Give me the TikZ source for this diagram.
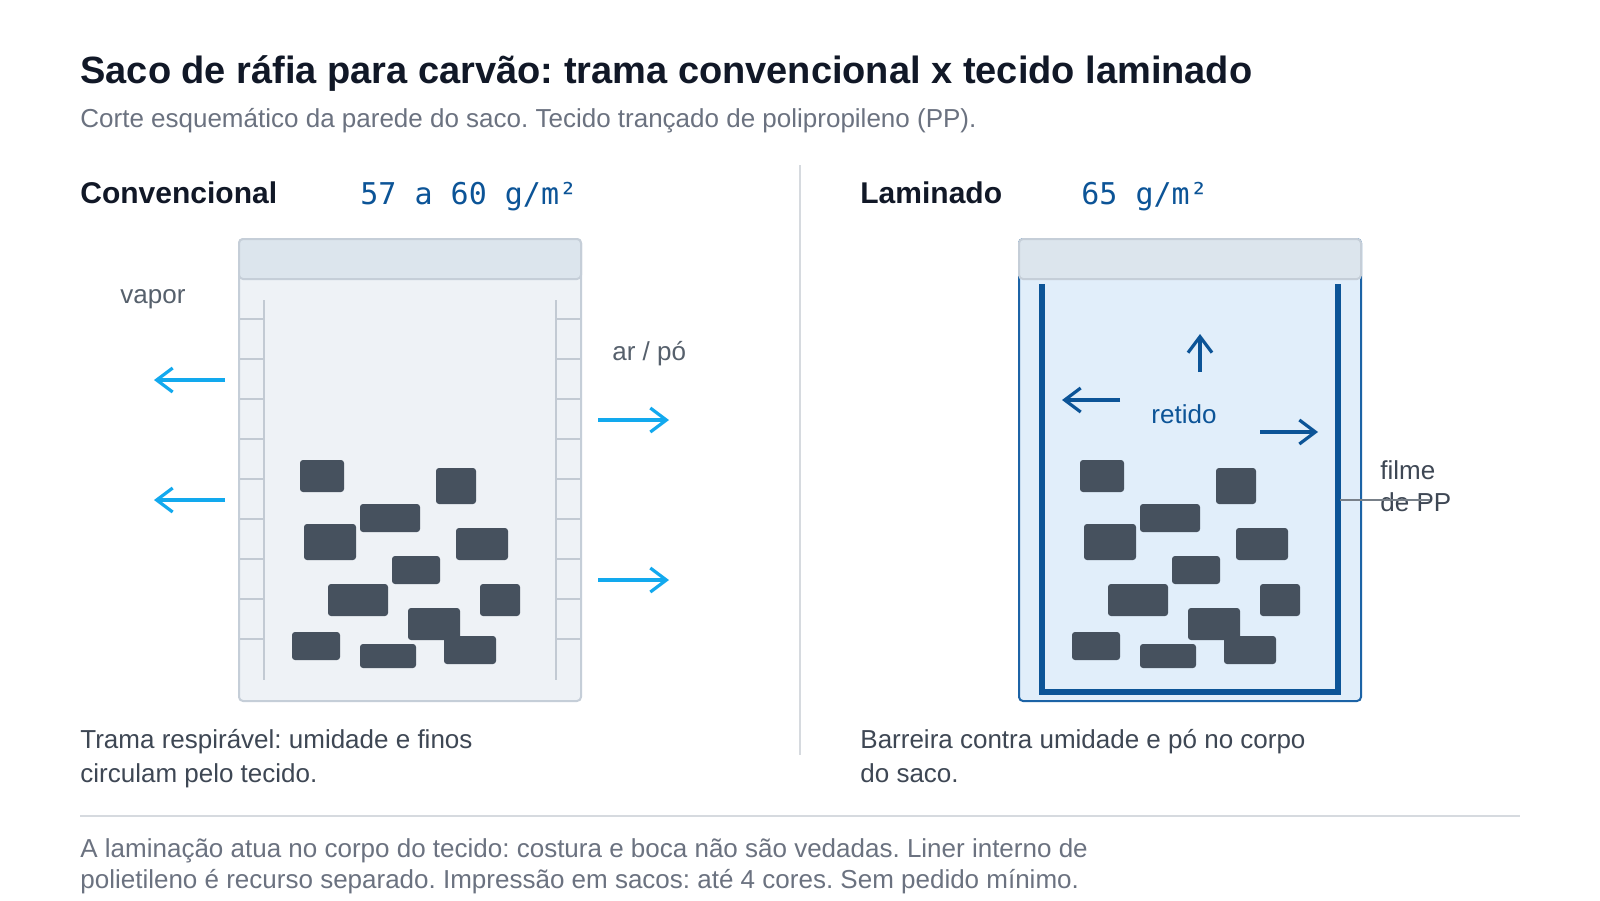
\documentclass[tikz,border=0pt]{standalone}
\usepackage{fontspec}
\setmainfont{Liberation Sans}
\newfontfamily\monofont{DejaVu Sans Mono}
\usetikzlibrary{arrows.meta}
\frenchspacing
\definecolor{ink}{HTML}{111827}
\definecolor{subgray}{HTML}{6B7280}
\definecolor{textgray}{HTML}{3E4754}
\definecolor{labelgray}{HTML}{56606C}
\definecolor{skyblue}{HTML}{12A9EE}
\definecolor{deepblue}{HTML}{0C5497}
\definecolor{coalgray}{HTML}{46515E}
\definecolor{bagfill}{HTML}{EEF2F6}
\definecolor{bagedge}{HTML}{C5CED8}
\definecolor{bandfill}{HTML}{DCE5ED}
\definecolor{weavegray}{HTML}{C2CAD3}
\definecolor{laminfill}{HTML}{E1EEFA}
\definecolor{laminedge}{HTML}{1C63A6}
\definecolor{rulegray}{HTML}{D6DADF}
\tikzset{
  txt/.style={anchor=base west, inner sep=0pt},
  coal/.style={fill=coalgray, rounded corners=1.5pt},
  weave/.style={draw=weavegray, line width=1pt},
  airflow/.style={draw=skyblue, line width=1.6pt, -{Straight Barb[length=8pt,width=12pt]}},
  heldflow/.style={draw=deepblue, line width=1.6pt, -{Straight Barb[length=8pt,width=12pt]}},
}
\begin{document}
\begin{tikzpicture}[x=0.5pt,y=-0.5pt]
\useasboundingbox (0,0) rectangle (1600,900);
\fill[white] (0,0) rectangle (1600,900);

\node[txt, text=ink, font=\bfseries\fontsize{19pt}{23pt}\selectfont] (title) at (80,83) {Saco de ráfia para carvão: trama convencional x tecido laminado};
\node[txt, text=subgray, font=\fontsize{13pt}{16pt}\selectfont] (subtitle) at (80,127) {Corte esquemático da parede do saco. Tecido trançado de polipropileno (PP).};

\node[txt, text=ink, font=\bfseries\fontsize{15pt}{18pt}\selectfont] (convhead) at (80,203) {Convencional};
\node[txt, text=deepblue, font=\monofont\fontsize{15pt}{18pt}\selectfont] (convgram) at (360,204) {57 a 60 g/m²};
\node[txt, text=ink, font=\bfseries\fontsize{15pt}{18pt}\selectfont] (laminhead) at (860,203) {Laminado};
\node[txt, text=deepblue, font=\monofont\fontsize{15pt}{18pt}\selectfont] (lamingram) at (1081,204) {65 g/m²};

\draw[rulegray, line width=1pt] (800,165) -- (800,755);

% saco convencional
\draw[draw=bagedge, fill=bagfill, line width=1pt, rounded corners=2pt] (239,239) rectangle (581,701);
\draw[draw=bagedge, fill=bandfill, line width=1pt, rounded corners=2pt] (239,239) rectangle (581,279);
\draw[weave] (264,300) -- (264,680);
\draw[weave] (556,300) -- (556,680);
\foreach \y in {319,359,...,639} {
  \draw[weave] (240,\y) -- (264,\y);
  \draw[weave] (556,\y) -- (580,\y);
}

% saco laminado
\draw[draw=laminedge, fill=laminfill, line width=1pt, rounded corners=2pt] (1019,239) rectangle (1361,701);
\draw[draw=bagedge, fill=bandfill, line width=1pt, rounded corners=2pt] (1019,239) rectangle (1361,279);
\draw[deepblue, line width=2.6pt] (1042,284) -- (1042,692) -- (1338,692) -- (1338,284);

% carvão
\foreach \dx in {0,780} {
  \begin{scope}[xshift=\dx*0.5pt]
    \fill[coal] (300,460) rectangle (344,492);
    \fill[coal] (436,468) rectangle (476,504);
    \fill[coal] (360,504) rectangle (420,532);
    \fill[coal] (304,524) rectangle (356,560);
    \fill[coal] (456,528) rectangle (508,560);
    \fill[coal] (392,556) rectangle (440,584);
    \fill[coal] (328,584) rectangle (388,616);
    \fill[coal] (480,584) rectangle (520,616);
    \fill[coal] (408,608) rectangle (460,640);
    \fill[coal] (292,632) rectangle (340,660);
    \fill[coal] (360,644) rectangle (416,668);
    \fill[coal] (444,636) rectangle (496,664);
  \end{scope}
}

\node[txt, text=labelgray, font=\fontsize{13pt}{16pt}\selectfont] (vapor) at (120,303) {vapor};
\node[txt, text=labelgray, font=\fontsize{13pt}{16pt}\selectfont] (arpo) at (612,360) {ar / pó};
\draw[airflow] (225,380) -- (154,380);
\draw[airflow] (225,500) -- (154,500);
\draw[airflow] (598,420) -- (669,420);
\draw[airflow] (598,580) -- (669,580);

\node[anchor=base, inner sep=0pt, text=deepblue, font=\fontsize{13pt}{16pt}\selectfont] (retido) at (1184,423) {retido};
\draw[heldflow] (1200,372) -- (1200,334);
\draw[heldflow] (1120,400) -- (1062,400);
\draw[heldflow] (1260,432) -- (1318,432);

\node[txt, text=textgray, font=\fontsize{13pt}{16pt}\selectfont] (filme) at (1380,479) {filme};
\node[txt, text=textgray, font=\fontsize{13pt}{16pt}\selectfont] (depp) at (1380,511) {de PP};
\draw[labelgray!80, line width=0.6pt] (1340,500) -- (1430,500);

\node[txt, text=textgray, font=\fontsize{13pt}{16pt}\selectfont] (convcap1) at (80,748) {Trama respirável: umidade e finos};
\node[txt, text=textgray, font=\fontsize{13pt}{16pt}\selectfont] (convcap2) at (80,782) {circulam pelo tecido.};
\node[txt, text=textgray, font=\fontsize{13pt}{16pt}\selectfont] (lamincap1) at (860,748) {Barreira contra umidade e pó no corpo};
\node[txt, text=textgray, font=\fontsize{13pt}{16pt}\selectfont] (lamincap2) at (860,782) {do saco.};

\draw[rulegray, line width=1pt] (80,816) -- (1520,816);

\node[txt, text=subgray, font=\fontsize{13pt}{16pt}\selectfont] (note1) at (80,857) {A laminação atua no corpo do tecido: costura e boca não são vedadas. Liner interno de};
\node[txt, text=subgray, font=\fontsize{13pt}{16pt}\selectfont] (note2) at (80,888) {polietileno é recurso separado. Impressão em sacos: até 4 cores. Sem pedido mínimo.};
\end{tikzpicture}
\end{document}
